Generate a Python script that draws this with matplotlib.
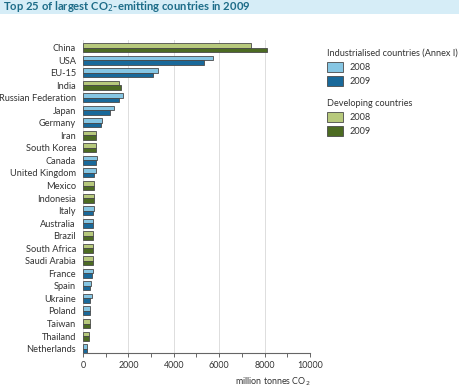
import numpy as np
import matplotlib.pyplot as plt
from matplotlib.patches import Patch, Rectangle

plt.rcParams['font.family'] = ['Lato', 'DejaVu Sans']

countries = ['China', 'USA', 'EU-15', 'India', 'Russian Federation', 'Japan',
             'Germany', 'Iran', 'South Korea', 'Canada', 'United Kingdom',
             'Mexico', 'Indonesia', 'Italy', 'Australia', 'Brazil',
             'South Africa', 'Saudi Arabia', 'France', 'Spain', 'Ukraine',
             'Poland', 'Taiwan', 'Thailand', 'Netherlands']
# True = industrialised (Annex I), False = developing
annex1 = [False, True, True, False, True, True, True, False, False, True, True,
          False, False, True, True, False, False, False, True, True, True,
          True, False, False, True]
em2008 = [7390, 5710, 3290, 1590, 1760, 1350, 850, 590, 590, 620, 560, 500,
          490, 470, 430, 420, 430, 420, 420, 370, 380, 320, 300, 260, 190]
em2009 = [8090, 5330, 3070, 1690, 1590, 1200, 780, 590, 590, 570, 500, 490,
          480, 440, 430, 420, 420, 420, 400, 330, 330, 300, 290, 270, 180]

ind_light, ind_dark = '#86c6e3', '#19699a'
dev_light, dev_dark = '#b7c97c', '#4c6b22'
edge = '#4a4a4a'
text_col = '#333333'

fig = plt.figure(figsize=(4.6, 3.89), dpi=100)

# title band
fig.patches.append(Rectangle((0, 1 - 14 / 389), 1, 14 / 389, transform=fig.transFigure,
                             facecolor='#d6edf7', edgecolor='none', zorder=0))
fig.text(3 / 460, 1 - 7 / 389, 'Top 25 of largest CO$_2$-emitting countries in 2009',
         fontsize=8.1, fontweight='bold', color='#1d6c88', va='center', ha='left')

ax = fig.add_axes([83 / 460, 1 - 353 / 389, 227 / 460, 313 / 389])
y = np.arange(len(countries))
h = 0.36
c08 = [ind_light if a else dev_light for a in annex1]
c09 = [ind_dark if a else dev_dark for a in annex1]
ax.barh(y - h / 2, em2008, height=h, color=c08, edgecolor=edge, linewidth=0.6, zorder=3)
ax.barh(y + h / 2, em2009, height=h, color=c09, edgecolor=edge, linewidth=0.6, zorder=3)

ax.set_ylim(24.35, -0.6)
ax.set_xlim(0, 10000)
ax.set_yticks(y)
ax.set_yticklabels(countries, fontsize=6.7, color=text_col)
ax.tick_params(axis='y', length=0, pad=5)
ax.set_xticks(np.arange(0, 10001, 2000))
ax.set_xticks(np.arange(1000, 10000, 2000), minor=True)
ax.set_xticklabels(['0', '2000', '4000', '6000', '8000', '10000'], fontsize=6.4, color=text_col)
ax.tick_params(axis='x', which='both', direction='out', length=3, color='#666666', width=0.7, pad=3)
ax.xaxis.grid(True, color='#dddddd', linewidth=0.7, zorder=0)
ax.set_axisbelow(True)
for s in ['top', 'right', 'left']:
    ax.spines[s].set_visible(False)
ax.spines['bottom'].set_color('#666666')
ax.spines['bottom'].set_linewidth(0.8)
ax.set_xlabel('million tonnes CO$_2$', fontsize=6.4, color=text_col, loc='right', labelpad=4)

# legend
leg_kw = dict(loc='upper left', frameon=False, fontsize=6.6, title_fontsize=6.6,
              handlelength=1.75, handleheight=1.3, labelspacing=0.45,
              handletextpad=0.75, borderaxespad=0, alignment='left')
leg1 = fig.legend(handles=[Patch(facecolor=ind_light, edgecolor=edge, linewidth=0.6, label='2008'),
                           Patch(facecolor=ind_dark, edgecolor=edge, linewidth=0.6, label='2009')],
                  title='Industrialised countries (Annex I)',
                  bbox_to_anchor=(323 / 460, 1 - 45 / 389), **leg_kw)
leg2 = fig.legend(handles=[Patch(facecolor=dev_light, edgecolor=edge, linewidth=0.6, label='2008'),
                           Patch(facecolor=dev_dark, edgecolor=edge, linewidth=0.6, label='2009')],
                  title='Developing countries',
                  bbox_to_anchor=(323 / 460, 1 - 95 / 389), **leg_kw)
for lg in (leg1, leg2):
    lg.get_title().set_color(text_col)
    for t in lg.get_texts():
        t.set_color(text_col)

fig.savefig('out.png', dpi=100)
